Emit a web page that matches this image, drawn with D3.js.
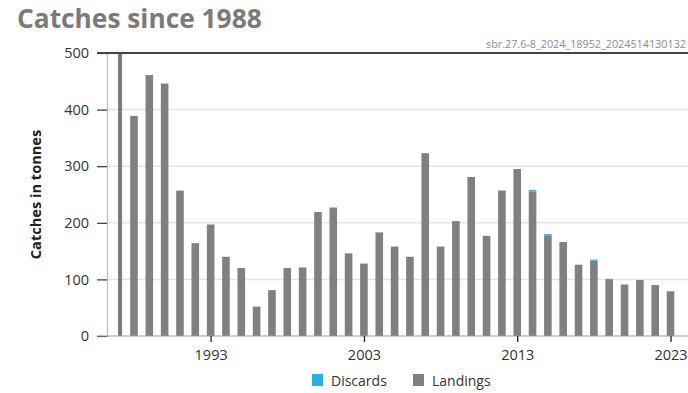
<!DOCTYPE html>
<html><head><meta charset="utf-8">
<script src="https://cdn.jsdelivr.net/npm/d3@7"></script>
<style>body{margin:0;background:#fff}svg{display:block;font-family:"Open Sans",sans-serif}</style>
</head><body>
<svg id="c" width="688" height="393"></svg>
<script>
const years = d3.range(1988, 2024);
const landings = [389,461,446,257,164,197,140,120,52,81,120,121,219,227,146,128,183,158,140,323,158,203,281,177,257,295,255,177,166,126,133,99,91,99,90,79];
const discards = [0,0,0,0,0,0,0,0,0,0,0,0,0,0,0,0,0,0,0,0,0,0,0,0,0,0,3,3,0,0,2,2,0,0,0,0];
const yTicks = [0,100,200,300,400,500];
const xTicks = [1993,2003,2013,2023];
const edgeBar = [{year:1987, value:500}];
const legendItems = [{name:"Discards", color:"#29aee6"},{name:"Landings", color:"#808080"}];

const svg = d3.select("#c");
const L = 107, R = 688, T = 53, B = 336;
const x = d3.scaleLinear().domain([1986.24, 2024.14]).range([L, R]);
const y = d3.scaleLinear().domain([0, 500]).range([B, T]);
const bw = 7.6;

svg.append("text").attr("x",17).attr("y",27.5).attr("font-size",26.3).attr("font-weight",700)
  .attr("fill","#7a7a7a").text("Catches since 1988");
svg.append("text").attr("x",686).attr("y",48).attr("text-anchor","end").attr("font-size",10.8).attr("fill","#8a8a96")
  .text("sbr.27.6-8_2024_18952_2024514130132");

// grid
svg.append("g").selectAll("line").data(yTicks.filter(d=>d>0&&d<500)).join("line")
  .attr("x1",L).attr("x2",R).attr("y1",d=>y(d)).attr("y2",d=>y(d))
  .attr("stroke","#e4e4e4").attr("stroke-width",1.5);

// left axis
const ya = svg.append("g").attr("transform",`translate(${L},0)`)
  .call(d3.axisLeft(y).tickValues(yTicks).tickSize(10).tickPadding(8));
ya.select(".domain").attr("stroke","#bdbdbd").attr("stroke-width",1.2);
ya.selectAll(".tick line").attr("stroke","#333").attr("stroke-width",1.2);
ya.selectAll(".tick text").attr("font-size",14.5).attr("fill","#333").attr("font-family","Open Sans");

// bars
svg.append("g").selectAll("rect").data(edgeBar).join("rect")
  .attr("x",d=>x(d.year)-0.6).attr("width",4).attr("y",d=>y(d.value)).attr("height",d=>y(0)-y(d.value))
  .attr("fill","#7a7a7a");
svg.append("g").selectAll("rect").data(years).join("rect")
  .attr("x",(d)=>x(d)-bw/2).attr("width",bw)
  .attr("y",(d,i)=>y(landings[i])).attr("height",(d,i)=>y(0)-y(landings[i]))
  .attr("fill","#808080");
svg.append("g").selectAll("rect").data(years).join("rect")
  .attr("x",(d)=>x(d)-bw/2).attr("width",bw)
  .attr("y",(d,i)=>y(landings[i]+discards[i])).attr("height",(d,i)=>y(landings[i])-y(landings[i]+discards[i]))
  .attr("fill","#29aee6");

// baseline and top
svg.append("line").attr("x1",97).attr("x2",R).attr("y1",y(0)).attr("y2",y(0)).attr("stroke","#9a9a9a").attr("stroke-width",1.2);
svg.append("line").attr("x1",97).attr("x2",R).attr("y1",y(500)).attr("y2",y(500)).attr("stroke","#444").attr("stroke-width",2.2);

// x axis
const xa = svg.append("g").attr("transform",`translate(0,${B})`)
  .call(d3.axisBottom(x).tickValues(xTicks).tickFormat(d3.format("d")).tickSize(6).tickPadding(8));
xa.select(".domain").remove();
xa.selectAll(".tick line").attr("stroke","#222").attr("stroke-width",1.3);
xa.selectAll(".tick text").attr("font-size",14.5).attr("fill","#333").attr("font-family","Open Sans");

// y label
svg.append("text").attr("transform",`translate(41,${(T+B)/2}) rotate(-90)`).attr("text-anchor","middle")
  .attr("font-size",14.6).attr("font-weight",700).attr("fill","#222").text("Catches in tonnes");

// legend
const lx = [312, 413];
const lg = svg.append("g").selectAll("g").data(legendItems).join("g")
  .attr("transform",(d,i)=>`translate(${lx[i]},374)`);
lg.append("rect").attr("width",11).attr("height",12).attr("fill",d=>d.color);
lg.append("text").attr("x",19).attr("y",11.5).attr("font-size",14).attr("fill","#333").text(d=>d.name);
</script>
</body></html>
